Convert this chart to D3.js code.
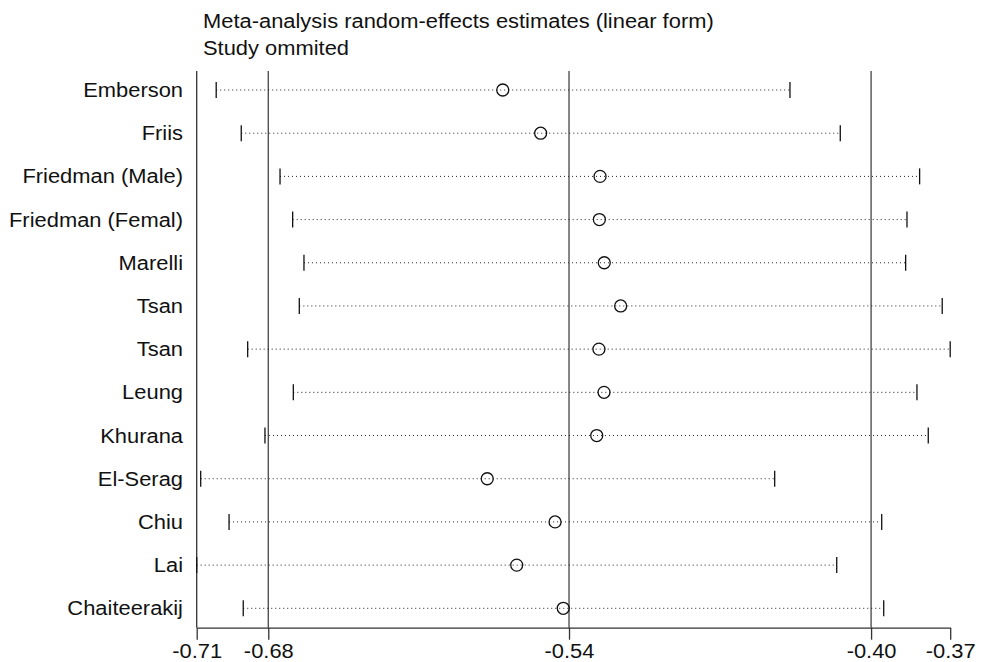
<!DOCTYPE html>
<html>
<head>
<meta charset="utf-8">
<script src="https://cdn.jsdelivr.net/npm/d3@7"></script>
<style>
  body { margin: 0; background: #fff; }
  svg { display: block; font-family: "Liberation Sans", Arial, sans-serif; }
</style>
</head>
<body>
<svg id="chart"></svg>
<script>
// study omitted, estimate and 95% CI with that study left out
const studies = ["Emberson", "Friis", "Friedman (Male)", "Friedman (Femal)", "Marelli", "Tsan", "Tsan",
  "Leung", "Khurana", "El-Serag", "Chiu", "Lai", "Chaiteerakij"];
const estimates = [-0.5699, -0.5528, -0.5260, -0.5263, -0.5241, -0.5167, -0.5265,
  -0.5242, -0.5275, -0.5769, -0.5463, -0.5636, -0.5426];
const lowers = [-0.6992, -0.6879, -0.6704, -0.6647, -0.6596, -0.6617, -0.6850,
  -0.6644, -0.6772, -0.7062, -0.6934, -0.7080, -0.6870];
const uppers = [-0.4403, -0.4176, -0.3818, -0.3875, -0.3881, -0.3716, -0.3680,
  -0.3830, -0.3779, -0.4472, -0.3989, -0.4192, -0.3980];
// combined estimate, lower and upper CI (all studies)
const combined = [-0.5400, -0.6757, -0.4037];
const titleLines = ["Meta-analysis random-effects estimates (linear form)", "Study ommited"];

const W = 981, H = 662;
const SX = 1.095; // text in the source is a little wider than Liberation Sans
const svg = d3.select("#chart").attr("width", W).attr("height", H);
svg.append("rect").attr("width", W).attr("height", H).attr("fill", "#fff");

const rows = studies.map((s, i) => ({ name: s, est: estimates[i], lo: lowers[i], hi: uppers[i], i }));

const xMin = d3.min(lowers), xMax = d3.max(uppers);
const x = d3.scaleLinear().domain([xMin, xMax]).range([196.7, 950.2]);
const y = d3.scalePoint().domain(d3.range(studies.length)).range([90, 608.3]);
const axisY = 627.7, topY = 71;

// title
svg.append("g").selectAll("text").data(titleLines).enter().append("text")
  .attr("transform", (d, i) => `translate(203,${28 + i * 27}) scale(${SX},1)`)
  .attr("font-size", 20).attr("fill", "#111")
  .text(d => d);

// left frame line
svg.append("line")
  .attr("x1", x(xMin)).attr("x2", x(xMin)).attr("y1", topY).attr("y2", axisY)
  .attr("stroke", "#333").attr("stroke-width", 1.3);

// reference lines at combined estimate and CI
svg.append("g").selectAll("line").data(combined).enter().append("line")
  .attr("x1", d => x(d)).attr("x2", d => x(d))
  .attr("y1", topY).attr("y2", axisY)
  .attr("stroke", "#444").attr("stroke-width", 1.3);

// x axis
const ax = svg.append("g")
  .attr("transform", `translate(0,${axisY})`)
  .call(d3.axisBottom(x)
    .tickValues([xMin, combined[1], combined[0], combined[2], xMax])
    .tickFormat(d => d.toFixed(2))
    .tickSize(12).tickSizeOuter(0));
ax.select(".domain").attr("stroke", "#333").attr("stroke-width", 1.3);
ax.selectAll(".tick line").attr("stroke", "#333").attr("stroke-width", 1.3);
ax.selectAll(".tick text")
  .attr("font-size", 20).attr("fill", "#111").attr("y", 16).attr("dy", "0.71em")
  .attr("transform", `scale(${SX},1)`)
  .attr("font-family", "'Liberation Sans', Arial, sans-serif");

// row labels
svg.append("g").selectAll("text").data(rows).enter().append("text")
  .attr("transform", d => `translate(183,${y(d.i) + 7}) scale(${SX},1)`)
  .attr("text-anchor", "end").attr("font-size", 20).attr("fill", "#111")
  .text(d => d.name);

// dotted CI lines
svg.append("g").selectAll("line").data(rows).enter().append("line")
  .attr("x1", d => x(d.lo)).attr("x2", d => x(d.hi))
  .attr("y1", d => y(d.i)).attr("y2", d => y(d.i))
  .attr("stroke", "#222").attr("stroke-width", 1).attr("stroke-dasharray", "1,3");

// CI end caps
const caps = svg.append("g");
rows.forEach(d => {
  [d.lo, d.hi].forEach(v => {
    caps.append("line")
      .attr("x1", x(v)).attr("x2", x(v))
      .attr("y1", y(d.i) - 8).attr("y2", y(d.i) + 8)
      .attr("stroke", "#111").attr("stroke-width", 1.3);
  });
});

// point estimates
svg.append("g").selectAll("circle").data(rows).enter().append("circle")
  .attr("cx", d => x(d.est)).attr("cy", d => y(d.i))
  .attr("r", 6).attr("fill", "none")
  .attr("stroke", "#111").attr("stroke-width", 1.3);
</script>
</body>
</html>
